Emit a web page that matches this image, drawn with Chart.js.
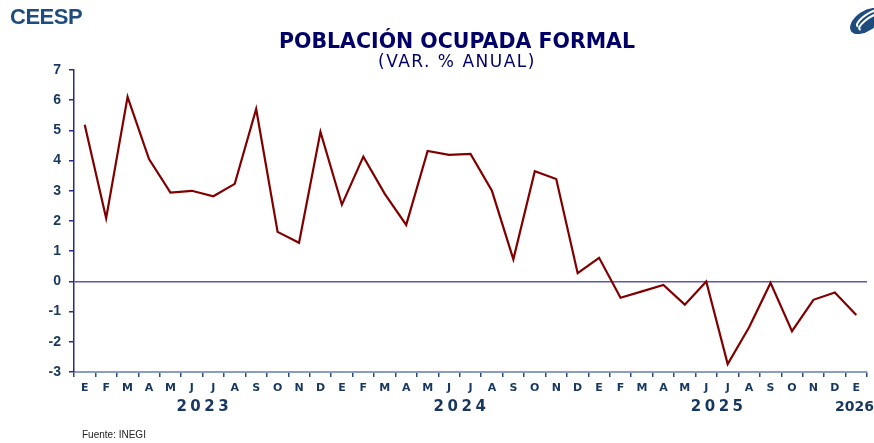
<!DOCTYPE html>
<html lang="es">
<head>
<meta charset="UTF-8">
<title>Población ocupada formal</title>
<script src="https://cdn.jsdelivr.net/npm/chart.js"></script>
<style>
    body { margin: 0; background: #fff; font-family: "Liberation Sans", Arial, sans-serif; }
    .wrap { position: relative; width: 874px; height: 443px; overflow: hidden; }
    .txt { position: absolute; white-space: nowrap; }
    #brand { left: 10px; top: 4px; font-size: 22px; font-weight: bold; color: #1e4c7c; letter-spacing: -0.5px; }
    #title { left: 0; width: 914px; text-align: center; top: 29px; font-family: "DejaVu Sans", sans-serif; font-size: 20.5px; font-weight: bold; color: #000066; }
    #subtitle { left: 0; width: 914px; text-align: center; top: 51px; font-family: "DejaVu Sans", sans-serif; font-size: 17px; letter-spacing: 1.5px; color: #000066; }
    #source { left: 82px; top: 429px; font-size: 10px; color: #222; }
</style>
</head>
<body>
<div class="wrap">
    <canvas id="chart" width="874" height="443"></canvas>
    <div class="txt" id="brand">CEESP</div>
    <div class="txt" id="title">POBLACIÓN OCUPADA FORMAL</div>
    <div class="txt" id="subtitle">(VAR. % ANUAL)</div>
    <div class="txt" id="source">Fuente: INEGI</div>
</div>
<script>
    // meses ene-2023 a ene-2026
    const months = ['E', 'F', 'M', 'A', 'M', 'J', 'J', 'A', 'S', 'O', 'N', 'D',
        'E', 'F', 'M', 'A', 'M', 'J', 'J', 'A', 'S', 'O', 'N', 'D',
        'E', 'F', 'M', 'A', 'M', 'J', 'J', 'A', 'S', 'O', 'N', 'D',
        'E'];
    const values = [5.19, 2.09, 6.11, 4.05, 2.94, 3.0, 2.82, 3.23, 5.71, 1.64, 1.28, 4.95,
        2.54, 4.13, 2.9, 1.87, 4.32, 4.19, 4.22, 3.0, 0.73, 3.65, 3.39, 0.27,
        0.78, -0.54, -0.33, -0.12, -0.77, 0.0, -2.74, -1.52, -0.05, -1.65, -0.61, -0.37,
        -1.11];
    const years = ['2023', '2024', '2025', '2026'];
    const yearAt = [5.5, 17.5, 29.5, 36];

    const navy = '#17375e';
    const font = '"Liberation Sans", Arial, sans-serif';
    const wide = '"DejaVu Sans", sans-serif';

    const extras = {
        id: 'extras',
        afterDraw(chart) {
            const ctx = chart.ctx;
            const x = chart.scales.x;
            ctx.save();
            ctx.fillStyle = navy;
            ctx.textAlign = 'center';
            ctx.textBaseline = 'middle';
            years.forEach((y, i) => {
                const last = i === years.length - 1;
                ctx.font = last ? 'bold 14px ' + wide : 'bold 15px ' + wide;
                ctx.letterSpacing = last ? '0px' : '3.5px';
                const w = ctx.measureText(y).width;
                let px = x.getPixelForValue(yearAt[i]);
                if (px + w / 2 > chart.width) px = chart.width - w / 2;
                ctx.fillText(y, px + (last ? 0 : 1.7), 407);
            });
            ctx.restore();

            // logo
            ctx.save();
            ctx.translate(866, 21);
            ctx.rotate(-0.6);
            ctx.fillStyle = '#1e4c7c';
            ctx.beginPath();
            ctx.ellipse(0, 0, 18, 10, 0, 0, Math.PI * 2);
            ctx.fill();
            ctx.strokeStyle = '#fff';
            ctx.lineWidth = 2;
            ctx.beginPath();
            ctx.ellipse(3, -1, 13, 4, 0, Math.PI * 0.9, Math.PI * 1.9);
            ctx.stroke();
            ctx.beginPath();
            ctx.ellipse(3, 3, 13, 4, 0, Math.PI * 0.9, Math.PI * 1.9);
            ctx.stroke();
            ctx.restore();
        }
    };

    new Chart(document.getElementById('chart'), {
        type: 'line',
        data: {
            labels: months,
            datasets: [{
                data: values,
                borderColor: '#800000',
                borderWidth: 2.2,
                pointRadius: 0,
                tension: 0,
                fill: false
            }]
        },
        options: {
            responsive: false,
            animation: false,
            layout: { padding: { top: 70, right: 7, left: 0, bottom: 0 } },
            plugins: { legend: { display: false }, tooltip: { enabled: false } },
            scales: {
                x: {
                    offset: true,
                    grid: { offset: true, drawOnChartArea: false, tickLength: 5, tickColor: '#2b4a7a', lineWidth: 1.5 },
                    border: { color: '#8a9cc0', width: 2 },
                    ticks: {
                        color: navy, autoSkip: false, maxRotation: 0, padding: 5,
                        font: { family: wide, size: 11, weight: 'bold' }
                    },
                    afterFit: s => { s.height = 71; }
                },
                y: {
                    min: -3, max: 7,
                    ticks: {
                        stepSize: 1, color: navy, padding: 8,
                        font: { family: font, size: 14, weight: 'bold' }
                    },
                    grid: {
                        color: c => c.tick && c.tick.value === 0 ? '#5a5aa8' : 'transparent',
                        lineWidth: 1.5,
                        tickColor: '#2a2a8a',
                        tickLength: 5
                    },
                    border: { color: '#2a2a8a', width: 1.5 },
                    afterFit: s => { s.width = 74; }
                }
            }
        },
        plugins: [extras]
    });
</script>
</body>
</html>
